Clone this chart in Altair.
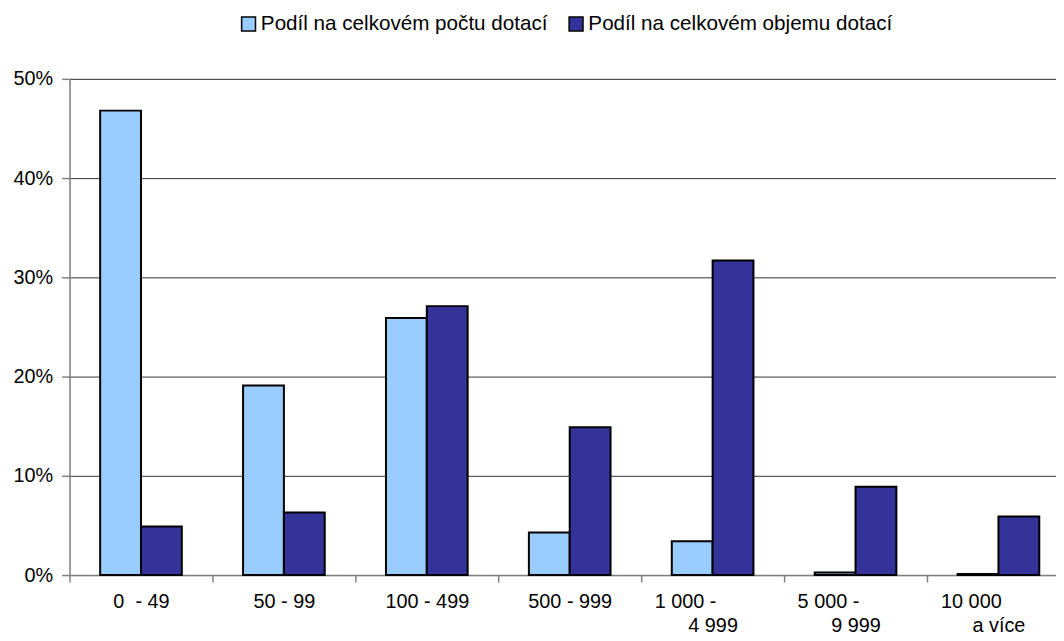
import altair as alt
import pandas as pd

categories = ["0  - 49", "50 - 99", "100 - 499", "500 - 999",
              "1 000 -|4 999", "5 000 -|9 999", "10 000|a více"]
series = ["Podíl na celkovém počtu dotací", "Podíl na celkovém objemu dotací"]
pocet = [46.8, 19.1, 25.9, 4.3, 3.4, 0.25, 0.12]
objem = [4.9, 6.3, 27.1, 14.9, 31.7, 8.9, 5.9]
colors = ["#99CCFF", "#333399"]
y_ticks = [0, 10, 20, 30, 40, 50]

rows = []
for c, a, b in zip(categories, pocet, objem):
    rows.append({"cat": c, "series": series[0], "value": a})
    rows.append({"cat": c, "series": series[1], "value": b})
df = pd.DataFrame(rows)

FONT = "Liberation Sans"
FS = 20
W, H = 1008, 500

nb = "\u00a0" * 10 + "\u2060"
label_expr = (
    "split(datum.label, '|').length > 1 ? "
    f"[split(datum.label, '|')[0] + '{nb}', split(datum.label, '|')[1]] : "
    "replace(datum.label, '  ', '\u00a0 ')"
)

chart = alt.Chart(df).mark_bar(stroke="black", strokeWidth=2).encode(
    x=alt.X(
        "cat:N", sort=categories,
        scale=alt.Scale(domain=categories, paddingInner=0, paddingOuter=0),
        axis=alt.Axis(title=None, labelAngle=0, tickBand="extent",
                      labelExpr=label_expr, labelFont=FONT, labelFontSize=FS, labelColor="black",
                      labelPadding=10, labelLineHeight=24, labelBaseline="top",
                      domainColor="#808080", domainWidth=1.5, tickColor="#808080",
                      tickSize=7, tickWidth=1.5, grid=False),
    ),
    xOffset=alt.XOffset("series:N", sort=series,
                        scale=alt.Scale(domain=series, paddingInner=0, paddingOuter=0.75)),
    y=alt.Y(
        "value:Q",
        scale=alt.Scale(domain=[0, 50], nice=False),
        axis=alt.Axis(title=None, values=y_ticks, labelExpr="datum.value + '%'",
                      labelFont=FONT, labelFontSize=FS, labelColor="black", labelPadding=9,
                      domainColor="#808080", domainWidth=1.5, tickColor="#808080",
                      tickSize=8, tickWidth=1.5, grid=True, gridColor="#333333", gridWidth=1),
    ),
    color=alt.Color(
        "series:N", sort=series,
        scale=alt.Scale(domain=series, range=colors),
        legend=alt.Legend(title=None, orient="none", legendX=170, legendY=-66,
                          direction="horizontal", symbolType="square", symbolSize=196,
                          symbolStrokeColor="black", symbolStrokeWidth=1.5,
                          labelFont=FONT, labelFontSize=20.8, labelColor="black",
                          labelLimit=0, labelOffset=2, columnPadding=18),
    ),
).properties(
    width=W, height=H,
    padding={"left": 62, "top": 69, "right": -14, "bottom": 60},
    autosize=alt.AutoSizeParams(type="none"),
).configure_view(stroke=None).configure(background="white")

chart.save("out.html", embed_options={"renderer": "svg", "actions": False})
